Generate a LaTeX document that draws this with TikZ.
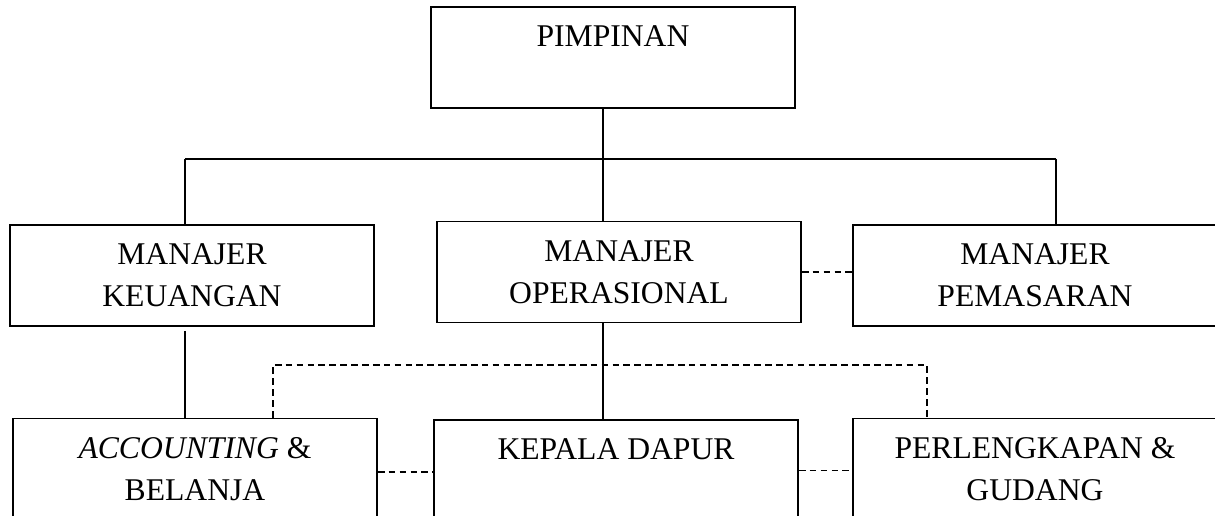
\documentclass[tikz,border=0pt]{standalone}
\usepackage{fontspec}
\setmainfont{Liberation Serif}
\usetikzlibrary{positioning}
\tikzstyle{jabatan}=[rectangle,draw=black,line width=1pt,minimum width=7.28cm,minimum height=2.02cm,align=center,font=\fontsize{18}{24}\selectfont,inner sep=0pt]
\tikzstyle{garis}=[line width=1.1pt]
\tikzstyle{putus}=[line width=1.1pt,dash pattern=on 3.8pt off 2.4pt]

\begin{document}
\begin{tikzpicture}[x=0.02cm,y=-0.02cm,garis]
\clip (0,0) rectangle (1215,516);
\node[jabatan] (pimpinan) at (613,57.5) {PIMPINAN\\~};
\node[jabatan] (keuangan) at (192,275.5) {MANAJER\\KEUANGAN};
\node[jabatan] (operasional) at (619,272) {MANAJER\\OPERASIONAL};
\node[jabatan] (pemasaran) at (1035,275.5) {MANAJER\\PEMASARAN};
\node[jabatan] (accounting) at (195,469) {\textit{ACCOUNTING} \&\\BELANJA};
\node[jabatan] (kepala) at (616,470.5) {KEPALA DAPUR\\~};
\node[jabatan] (perlengkapan) at (1035,469) {PERLENGKAPAN \&\\GUDANG};
\coordinate (trunk) at (603,159);
\coordinate (busL) at (185,159);
\coordinate (busR) at (1056,159);
\coordinate (dashL) at (273,365);
\coordinate (dashR) at (927,365);
% garis komando
\draw (trunk |- pimpinan.south) -- (trunk |- operasional.north);
\draw (busL) -- (busR);
\draw (busL) -- (busL |- keuangan.north);
\draw (busR) -- (busR |- pemasaran.north);
\draw ([yshift=-0.08cm]busL |- keuangan.south) -- (busL |- accounting.north);
\draw (trunk |- operasional.south) -- (trunk |- kepala.north);
% garis koordinasi
\draw[putus] (operasional.east) -- (operasional.east -| pemasaran.west);
\draw[putus] (dashL |- accounting.north) -- (dashL) -- (dashR) -- (dashR |- perlengkapan.north);
\draw[putus] ([yshift=-0.06cm]accounting.east) -- ([yshift=-0.06cm]accounting.east -| kepala.west);
\draw[putus] (kepala.east) -- (kepala.east -| perlengkapan.west);
\end{tikzpicture}
\end{document}
